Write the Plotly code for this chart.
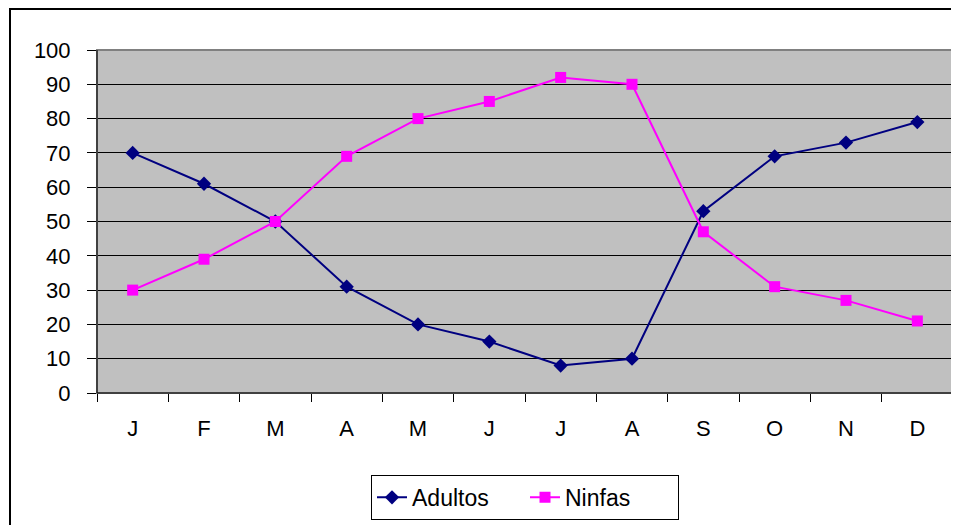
import plotly.graph_objects as go

months = ["J", "F", "M", "A", "M", "J", "J", "A", "S", "O", "N", "D"]
adultos = [70, 61, 50, 31, 20, 15, 8, 10, 53, 69, 73, 79]
ninfas = [30, 39, 50, 69, 80, 85, 92, 90, 47, 31, 27, 21]
y_ticks = list(range(0, 101, 10))

x_idx = list(range(len(months)))

fig = go.Figure()
fig.add_trace(go.Scatter(
    x=x_idx, y=adultos, name="Adultos", mode="lines+markers",
    line=dict(color="#000080", width=2),
    marker=dict(symbol="diamond", size=11, color="#000080"),
))
fig.add_trace(go.Scatter(
    x=x_idx, y=ninfas, name="Ninfas", mode="lines+markers",
    line=dict(color="#FF00FF", width=2),
    marker=dict(symbol="square", size=11, color="#FF00FF"),
))

# page has an 8px body margin; figure is sized to end at the window edge
W, H = 951, 517
L, T, R, B = 89, 42, 6, 131
pw, ph = W - L - R, H - T - B

fig.update_layout(
    width=W, height=H,
    margin=dict(l=L, r=R, t=T, b=B),
    paper_bgcolor="white",
    plot_bgcolor="#C0C0C0",
    font=dict(family="Liberation Sans, Arial, sans-serif", size=22, color="black"),
    showlegend=True,
    legend=dict(
        orientation="h", x=0.5, xanchor="center", y=-0.235, yanchor="top",
        bordercolor="black", borderwidth=1, bgcolor="white",
        font=dict(size=23), entrywidth=108, entrywidthmode="pixels",
    ),
    xaxis=dict(
        range=[-0.5, 11.5], tickmode="array", tickvals=x_idx, ticktext=months,
        showgrid=False, zeroline=False, ticks="",
        showline=True, linecolor="black", linewidth=1,
        ticklabelstandoff=16,
        minor=dict(tickmode="array", tickvals=[i - 0.5 for i in range(13)],
                   ticks="outside", ticklen=8, tickcolor="black", showgrid=False),
    ),
    yaxis=dict(
        range=[0, 100], tickmode="array", tickvals=y_ticks,
        showgrid=True, gridcolor="black", gridwidth=1, zeroline=False,
        showline=True, linecolor="black", linewidth=1,
        ticks="outside", ticklen=9, tickcolor="black",
        ticklabelstandoff=12,
    ),
    shapes=[
        dict(type="rect", xref="paper", yref="paper", x0=0, x1=1, y0=0, y1=1,
             line=dict(color="#808080", width=2), fillcolor="rgba(0,0,0,0)", layer="above"),
        dict(type="line", xref="paper", yref="paper", x0=0, x1=0, y0=0, y1=1,
             line=dict(color="black", width=1), layer="above"),
        dict(type="line", xref="paper", yref="paper", x0=0, x1=1, y0=0, y1=0,
             line=dict(color="black", width=1), layer="above"),
        dict(type="rect", xref="paper", yref="paper",
             x0=(2 - L) / pw, x1=1.2, y0=-0.6, y1=(H - B - 1) / ph,
             line=dict(color="black", width=2), fillcolor="rgba(0,0,0,0)", layer="below"),
    ],
)

fig.write_html("out.html")
